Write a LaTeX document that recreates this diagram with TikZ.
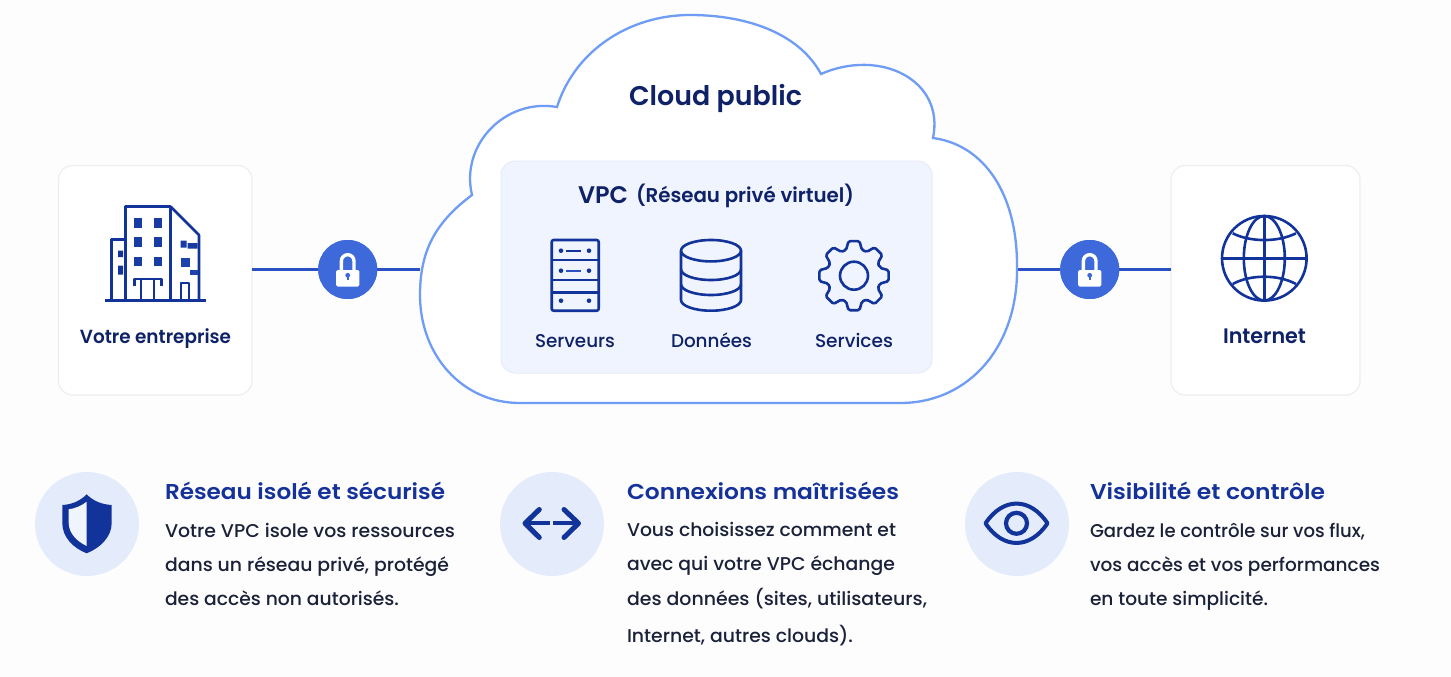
\documentclass[tikz,border=0pt]{standalone}
\usepackage{graphicx}
\usepackage{fontspec}
\setmainfont{Poppins}
\newfontfamily\medf{Poppins}[UprightFont=* Medium,BoldFont=* SemiBold]
\usetikzlibrary{calc}
\definecolor{bgc}{HTML}{FDFDFE}
\definecolor{navy}{HTML}{0F2268}
\definecolor{icon}{HTML}{12339A}
\definecolor{wire}{HTML}{2A50C4}
\definecolor{lockc}{HTML}{3E69DB}
\definecolor{cloudc}{HTML}{6F9CF5}
\definecolor{panel}{HTML}{F0F4FE}
\definecolor{panelb}{HTML}{E6ECFA}
\definecolor{cardb}{HTML}{EDEEF2}
\definecolor{disc}{HTML}{E4ECFC}
\definecolor{titlec}{HTML}{15329A}
\definecolor{bodyc}{HTML}{1A2138}
\newcommand{\fw}[2]{\resizebox{#1pt}{\height}{#2}}
\tikzset{
 x=1pt,y=-1pt,
 every node/.style={inner sep=0pt,outer sep=0pt},
 card/.style={draw=cardb,line width=1.2pt,fill=white,rounded corners=14pt,anchor=north west},
 wirel/.style={draw=wire,line width=3.4pt},
 lockdisc/.style={circle,fill=lockc,minimum size=59pt},
 icl/.style={draw=icon,line width=2.6pt,line join=round},
 icm/.style={draw=icon,line width=2.4pt,line join=round,line cap=round},
 lbl/.style={text=navy,anchor=base},
 bd/.style={text=bodyc,anchor=base west,font=\medf\fontsize{18.5}{18.5}\selectfont},
 ttl/.style={text=titlec,anchor=base west,font=\medf\fontsize{21.5}{21.5}\selectfont\bfseries},
 discn/.style={circle,fill=disc,minimum size=104pt},
}
\newcommand{\lockicon}[1]{%
 \begin{scope}[shift={(#1)}]
  \draw[white,line width=3.4pt] (-6.3,2) -- (-6.3,-8.5) arc[start angle=180,end angle=0,x radius=6.3,y radius=-6.3] -- (6.3,2);
  \fill[white,rounded corners=1.5pt] (-11.7,0.5) rectangle (11.7,17);
  \fill[lockc] (0,5.8) circle[radius=2.4];
  \draw[lockc,line width=1.6pt] (0,6) -- (0,10);
 \end{scope}}
\begin{document}
\begin{tikzpicture}
\useasboundingbox (0,0) rectangle (1451,677);
\fill[bgc] (0,0) rectangle (1451,677);
% cards
\node[card,minimum width=193.5pt,minimum height=229.5pt] (ent) at (58.5,165.5) {};
\node[card,minimum width=189pt,minimum height=229.5pt] (net) at (1171,165.5) {};
% cloud
\coordinate (cl) at (420,269.5);
\coordinate (cr) at (1017,269.5);
\node[lockdisc] (lk1) at (347.7,269.5) {};
\node[lockdisc] (lk2) at (1089.7,269.5) {};
\draw[wirel] (ent.east |- lk1) -- (lk1);
\draw[wirel] (lk1) -- (cl);
\draw[wirel] (cr) -- (lk2);
\draw[wirel] (lk2) -- (net.west |- lk2);
\node[lockdisc] at (lk1) {};
\node[lockdisc] at (lk2) {};
\lockicon{lk1}
\lockicon{lk2}
\draw[draw=cloudc,line width=2.3pt,fill=white]
 (520,403) .. controls (462,403) and (420,355) .. (420,295)
 .. controls (420,250) and (436,222) .. (472,195)
 .. controls (460,145) and (505,98) .. (557,107)
 .. controls (575,50) and (630,15) .. (690,15)
 .. controls (750,15) and (800,35) .. (821,74)
 .. controls (880,48) and (945,80) .. (933,138)
 .. controls (985,145) and (1017,195) .. (1017,265)
 .. controls (1019,345) and (970,403) .. (900,403) -- cycle;
\node[lbl,font=\medf\fontsize{27}{27}\selectfont\bfseries] (cp) at (715.5,106) {\fw{173}{Cloud public}};
\node[draw=panelb,line width=1pt,fill=panel,rounded corners=14pt,anchor=north west,minimum width=431pt,minimum height=212pt] (vpc) at (501,161) {};
\node[lbl,anchor=base west,font=\medf\fontsize{24}{24}\selectfont\bfseries] (vpct) at (578,203) {\fw{50}{VPC}};
\node[lbl,anchor=base west,font=\medf\fontsize{20}{20}\selectfont\bfseries] (vpcs) at (636,202) {\fw{218}{(Réseau privé virtuel)}};
% labels
\node[lbl,font=\medf\fontsize{19}{19}\selectfont\bfseries] (l1) at (155.5,343) {\fw{151}{Votre entreprise}};
\node[lbl,font=\medf\fontsize{21}{21}\selectfont\bfseries] (l2) at (1264.5,343) {\fw{83}{Internet}};
\node[lbl,font=\medf\fontsize{18.5}{18.5}\selectfont] (s1) at (575,347) {\fw{80}{Serveurs}};
\node[lbl,font=\medf\fontsize{18.5}{18.5}\selectfont] (s2) at (711.5,347) {\fw{81}{Données}};
\node[lbl,font=\medf\fontsize{18.5}{18.5}\selectfont] (s3) at (854,347) {\fw{78}{Services}};
% building
\begin{scope}
 \draw[icl] (125.3,300) -- (125.3,206.7) -- (170.7,206.7) -- (170.7,300);
 \draw[icl] (170.7,206.7) -- (199,235) -- (199,300);
 \draw[icl] (125.3,239.3) -- (111.3,239.3) -- (111.3,300);
 \draw[icon,line width=2.6pt] (105,300.7) -- (206,300.7);
 \foreach \wx in {134.3,153.7} \foreach \wy in {218.3,237.3,256.7}
  \fill[icon!85!lockc] (\wx,\wy) rectangle ++(8,9.6);
 \draw[icl,line width=2.2pt] (134.5,286) -- (134.5,279) -- (161.5,279) -- (161.5,286);
 \draw[icl,line width=2.2pt] (140.7,279) -- (140.7,300) (154,279) -- (154,300);
 \draw[icl,line width=2.2pt] (181,300) -- (181,283.3) -- (189.3,283.3) -- (189.3,300);
 \fill[icon!85!lockc] (180.7,240.5) rectangle ++(6,7) (187.5,243) rectangle ++(10,5.5);
 \fill[icon!70!lockc] (180.7,257.5) rectangle ++(9,9);
 \fill[icon!70!lockc] (190,270) rectangle ++(8,5);
 \fill[icon] (118,250.5) rectangle ++(5,6.5) (118,265.5) rectangle ++(5,9);
\end{scope}
% server
\begin{scope}
 \draw[icl,rounded corners=2pt] (551.7,240) rectangle (598.7,310.7);
 \draw[icl] (551.7,260) -- (598.7,260) (551.7,280) -- (598.7,280) (551.7,292.7) -- (598.7,292.7);
 \foreach \dx/\dy in {561/250.7,589/250.7,561/270.7,589/270.7,561/300.7,589/300.7}
  \fill[icon] (\dx,\dy) circle[radius=2.3];
 \draw[icon,line width=2.4pt] (566,250.7) -- (581,250.7);
 \draw[wire,line width=2.4pt] (566,270.7) -- (581,270.7);
\end{scope}
% database
\begin{scope}
 \draw[icl] (711,250.7) ellipse[x radius=30,y radius=10.7];
 \draw[icl] (681,250.7) -- (681,300) arc[start angle=180,end angle=360,x radius=30,y radius=-10.7] -- (741,250.7);
 \draw[icl] (681,269.3) arc[start angle=180,end angle=360,x radius=30,y radius=-10.7];
 \draw[icl] (681,284.3) arc[start angle=180,end angle=360,x radius=30,y radius=-10.7];
\end{scope}
% gear
\begin{scope}[shift={(854,275.7)}]
 \draw[icl,rounded corners=1.6pt]
  (-17:27) foreach \ga in {0,45,...,315} { -- (\ga-17:27) -- (\ga-9:35) -- (\ga+9:35) -- (\ga+17:27) } -- cycle;
 \draw[icl] (0,0) circle[radius=14];
\end{scope}
% globe
\begin{scope}[shift={(1264.3,258.3)}]
 \draw[icl] (0,0) circle[radius=42.3];
 \draw[icl] (0,0) ellipse[x radius=20.5,y radius=42.3];
 \draw[icl] (0,-42.3) -- (0,42.3) (-42.3,0) -- (42.3,0);
 \draw[icl] (-31.6,-25) .. controls (-14,-16) and (14,-16) .. (31.6,-25);
 \draw[icl] (-31.6,25.7) .. controls (-14,16) and (14,16) .. (31.6,25.7);
\end{scope}
% discs
\node[discn] (d1) at (87,524) {};
\node[discn] (d2) at (552,524) {};
\node[discn] (d3) at (1017,524) {};
% shield
\fill[icon] (86.7,494.3) .. controls (93,501) and (102,504.5) .. (111.7,505)
 -- (111.7,523) .. controls (111.7,537) and (100,548) .. (86.7,553.3)
 .. controls (73,548) and (62.3,537) .. (62.3,523) -- (62.3,505)
 .. controls (72,504.5) and (80,501) .. (86.7,494.3) -- cycle;
\fill[disc!60!white] (86.7,501.7) .. controls (81,506) and (75,508.5) .. (68.7,509.3)
 -- (68.7,523) .. controls (68.7,533) and (77,541.5) .. (86.7,546) -- cycle;
% arrows
\draw[icon,line width=5pt,line cap=round,line join=round] (539.3,509.5) -- (525,523.3) -- (539.3,537.5);
\draw[icon,line width=4.2pt] (525,523.3) -- (549.5,523.3);
\draw[icon,line width=5pt,line cap=round,line join=round] (564,509.5) -- (578.5,523.3) -- (564,537.5);
\draw[icon,line width=4.2pt] (553,523.3) -- (578.5,523.3);
% eye
\draw[icon,line width=4pt,line join=round] (985.5,523.3) .. controls (1003,497) and (1030,497) .. (1047.5,523.3) .. controls (1030,549.5) and (1003,549.5) .. (985.5,523.3) -- cycle;
\draw[icon,line width=4.2pt] (1016.5,523.3) circle[radius=10.5];
% bottom text
\node[ttl] (t1) at (165,499) {\fw{280}{Réseau isolé et sécurisé}};
\node[bd] (a1) at (165,537) {\fw{290}{Votre VPC isole vos ressources}};
\node[bd] (a2) at (165,571) {\fw{284}{dans un réseau privé, protégé}};
\node[bd] (a3) at (165,605) {\fw{234}{des accès non autorisés.}};
\node[ttl] (t2) at (627,499) {\fw{272}{Connexions maîtrisées}};
\node[bd] (b1) at (627,536) {\fw{269}{Vous choisissez comment et}};
\node[bd] (b2) at (627,570) {\fw{268}{avec qui votre VPC échange}};
\node[bd] (b3) at (627,605) {\fw{300}{des données (sites, utilisateurs,}};
\node[bd] (b4) at (627,642) {\fw{226}{Internet, autres clouds).}};
\node[ttl] (t3) at (1090,499) {\fw{235}{Visibilité et contrôle}};
\node[bd] (c1) at (1090,537) {\fw{275}{Gardez le contrôle sur vos flux,}};
\node[bd] (c2) at (1090,571) {\fw{290}{vos accès et vos performances}};
\node[bd] (c3) at (1090,605) {\fw{178}{en toute simplicité.}};
\end{tikzpicture}
\end{document}
